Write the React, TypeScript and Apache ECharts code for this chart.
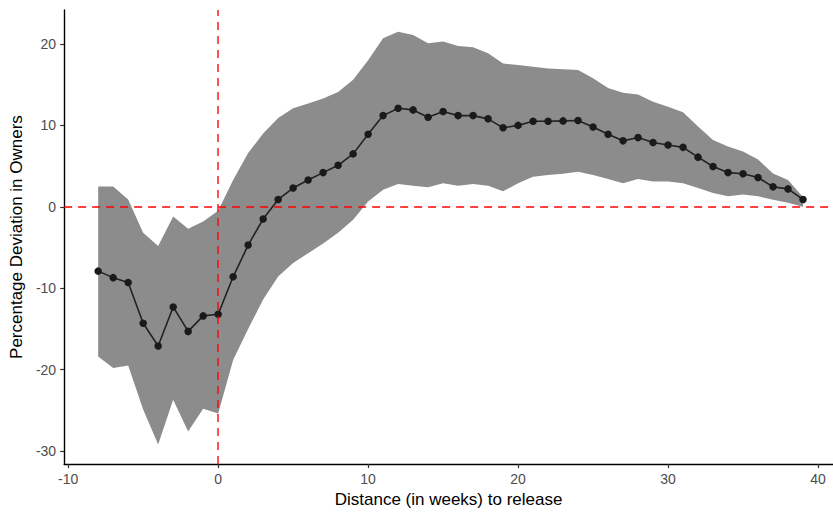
import React, { useEffect, useRef } from "react";
import * as echarts from "echarts";

const weeks = [-8, -7, -6, -5, -4, -3, -2, -1, 0, 1, 2, 3, 4, 5, 6, 7, 8, 9, 10, 11, 12, 13, 14, 15, 16, 17, 18, 19, 20, 21, 22, 23, 24, 25, 26, 27, 28, 29, 30, 31, 32, 33, 34, 35, 36, 37, 38, 39];
const estimate = [-7.9, -8.7, -9.3, -14.3, -17.1, -12.3, -15.3, -13.4, -13.2, -8.6, -4.7, -1.5, 0.9, 2.3, 3.3, 4.2, 5.1, 6.5, 8.9, 11.2, 12.1, 11.9, 11.0, 11.7, 11.2, 11.2, 10.8, 9.7, 10.0, 10.5, 10.5, 10.55, 10.6, 9.8, 8.9, 8.1, 8.5, 7.9, 7.6, 7.3, 6.1, 4.95, 4.2, 4.05, 3.6, 2.45, 2.2, 0.9];
const upper = [2.5, 2.5, 0.9, -3.2, -4.8, -1.2, -2.7, -1.8, -0.5, 3.3, 6.6, 9.0, 10.9, 12.1, 12.7, 13.3, 14.1, 15.6, 18.0, 20.7, 21.5, 21.1, 20.1, 20.3, 19.75, 19.6, 18.85, 17.6, 17.4, 17.2, 17.0, 16.9, 16.8, 15.8, 14.6, 14.0, 13.8, 12.9, 12.3, 11.6, 9.85, 8.2, 7.4, 6.8, 5.8, 4.1, 3.3, 1.2];
const lower = [-18.4, -19.8, -19.5, -24.9, -29.2, -23.7, -27.6, -24.8, -25.4, -18.8, -15.0, -11.4, -8.55, -6.9, -5.7, -4.5, -3.2, -1.6, 0.65, 2.1, 2.8, 2.6, 2.4, 2.9, 2.6, 2.8, 2.6, 1.9, 2.9, 3.7, 3.9, 4.05, 4.3, 3.9, 3.4, 2.9, 3.4, 3.1, 3.1, 2.9, 2.3, 1.7, 1.3, 1.5, 1.3, 0.86, 0.5, 0.0];
const xTicks = [-10, 0, 10, 20, 30, 40];
const yTicks = [-30, -20, -10, 0, 10, 20];
const refX = 0;
const refY = 0;

export default function App() {
  const ref = useRef<HTMLDivElement>(null);
  useEffect(() => {
    if (!ref.current) return;
    const chart = echarts.init(ref.current, null, { renderer: "svg" });
    const font = "'Liberation Sans', Arial, Helvetica, sans-serif";
    const bandData = weeks.map((w, i) => [w, lower[i], upper[i]]);
    chart.setOption({
      animation: false,
      backgroundColor: "#ffffff",
      grid: { left: 64, right: 0, top: 10, bottom: 48, containLabel: false },
      xAxis: {
        type: "value",
        min: -10.27,
        max: 41,
        name: "Distance (in weeks) to release",
        nameLocation: "middle",
        nameGap: 26,
        nameTextStyle: { fontFamily: font, fontSize: 17, color: "#000000" },
        axisLine: { show: true, onZero: false, lineStyle: { color: "#000000", width: 1.4 } },
        axisTick: { show: true, length: 4, customValues: xTicks, lineStyle: { color: "#333333", width: 1.2 } },
        axisLabel: { customValues: xTicks, fontFamily: font, fontSize: 14, color: "#4d4d4d", margin: 8 },
        splitLine: { show: false },
      },
      yAxis: {
        type: "value",
        min: -31.6,
        max: 24.17,
        name: "Percentage Deviation in Owners",
        nameLocation: "middle",
        nameGap: 38,
        nameTextStyle: { fontFamily: font, fontSize: 17, color: "#000000" },
        axisLine: { show: true, onZero: false, lineStyle: { color: "#000000", width: 1.4 } },
        axisTick: { show: true, length: 4, customValues: yTicks, lineStyle: { color: "#333333", width: 1.2 } },
        axisLabel: { customValues: yTicks, fontFamily: font, fontSize: 14, color: "#4d4d4d", margin: 8 },
        splitLine: { show: false },
      },
      series: [
        {
          type: "custom",
          z: 1,
          data: bandData,
          encode: { x: 0, y: [1, 2] },
          renderItem: (params: any, api: any) => {
            if (params.dataIndex !== 0) return null;
            const pts: number[][] = [];
            for (let i = 0; i < weeks.length; i++) pts.push(api.coord([weeks[i], upper[i]]));
            for (let i = weeks.length - 1; i >= 0; i--) pts.push(api.coord([weeks[i], lower[i]]));
            return {
              type: "polygon",
              shape: { points: pts },
              style: { fill: "#8c8c8c", stroke: "none" },
            };
          },
        },
        {
          type: "line",
          z: 3,
          data: weeks.map((w, i) => [w, estimate[i]]),
          symbol: "circle",
          symbolSize: 7.5,
          itemStyle: { color: "#1a1a1a" },
          lineStyle: { color: "#222222", width: 1.6 },
        },
        {
          type: "line",
          z: 5,
          data: [],
          markLine: {
            silent: true,
            symbol: "none",
            label: { show: false },
            lineStyle: { color: "rgba(255,0,0,0.75)", width: 1.8, type: [8, 6] },
            data: [{ xAxis: refX }, { yAxis: refY }],
          },
        },
      ],
    });
    return () => chart.dispose();
  }, []);
  return <div ref={ref} style={{ position: "fixed", left: 0, top: 0, width: 833, height: 513 }} />;
}
